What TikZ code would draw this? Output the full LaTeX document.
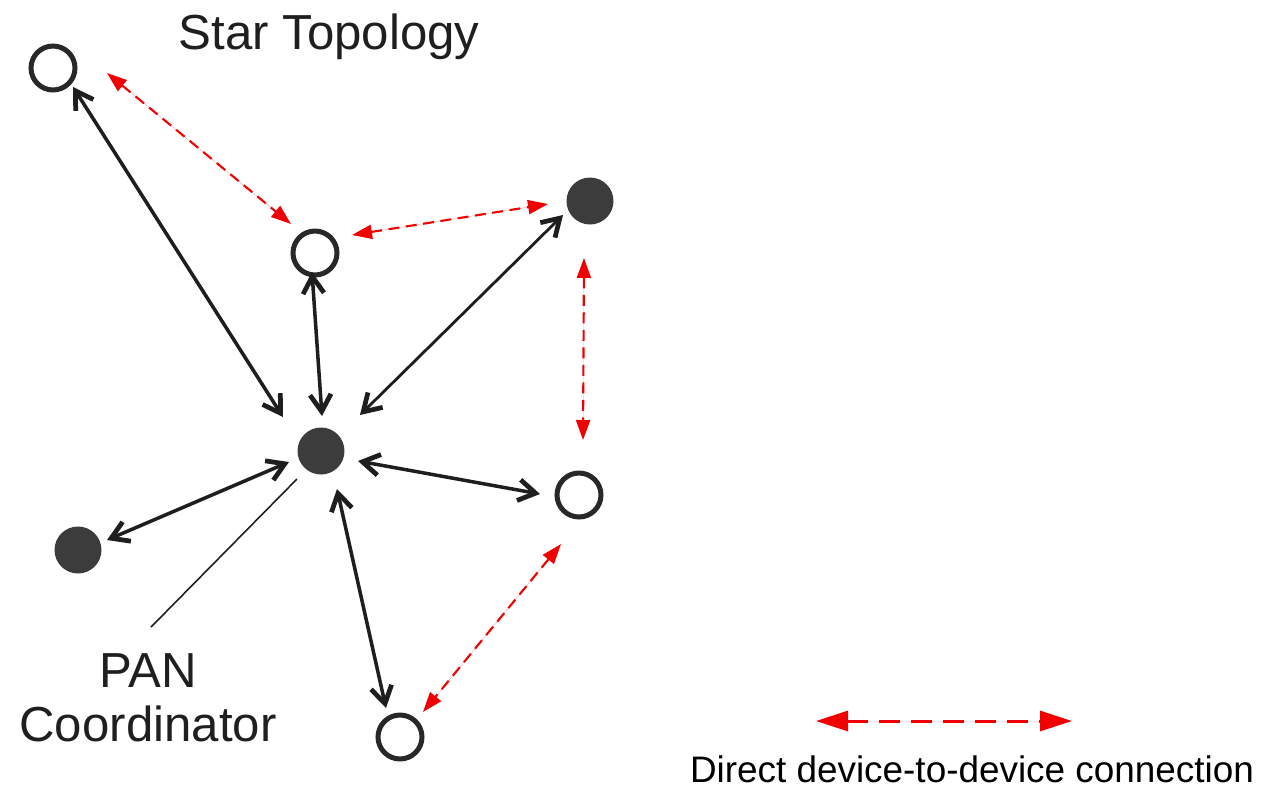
\documentclass[tikz,border=0pt]{standalone}
\usepackage{fontspec}
\setmainfont{Liberation Sans}
\usetikzlibrary{arrows.meta,calc}
\definecolor{ringc}{RGB}{40,40,40}
\definecolor{fillc}{RGB}{60,60,60}
\definecolor{linec}{RGB}{30,30,30}
\definecolor{redc}{RGB}{240,0,0}
\tikzset{
  hollow/.style={circle, draw=ringc, line width=1mm, minimum size=8.8mm, inner sep=0pt, outer sep=0pt},
  solid/.style={circle, fill=fillc, minimum size=9.4mm, inner sep=0pt, outer sep=0pt},
  blackarr/.style={<->, >={Straight Barb[length=3.4mm,width=4.2mm,line width=2.7pt]}, draw=linec, line width=2pt},
  redarr/.style={<->, >={Triangle[length=4mm,width=2.8mm]}, draw=redc, fill=redc, line width=1.2pt, dash pattern=on 2.2mm off 1.3mm},
  legarr/.style={<->, >={Triangle[length=6.4mm,width=4mm]}, draw=redc, fill=redc, line width=0.6mm, dash pattern=on 4.2mm off 2.2mm},
  bigtext/.style={font=\fontsize{28}{30}\selectfont, text=black!88, anchor=base, inner sep=0pt},
  legtext/.style={font=\fontsize{21}{24}\selectfont, text=black, anchor=base, inner sep=0pt}
}
\begin{document}
\begin{tikzpicture}[x=0.02cm, y=-0.02cm]
\useasboundingbox (0,0) rectangle (1272,789);
% nodes
\node[hollow] (A) at (53,68) {};
\node[hollow] (B) at (315,253) {};
\node[solid]  (C) at (590,201) {};
\node[solid]  (D) at (321,451) {};
\node[hollow] (E) at (579,495) {};
\node[solid]  (F) at (78,550) {};
\node[hollow] (G) at (400,737) {};
% labels
\node[bigtext] (title) at (329,49) {Star Topology};
\node[bigtext] (pan) at (148,687) {PAN};
\node[bigtext] (coord) at (148,741) {Coordinator};
% black connections
\draw[blackarr] ($(D)+(-38,-34)$) -- ($(A)+(20,19)$);
\draw[blackarr] ($(D)+(1,-35)$) -- ($(B)+(-3,19)$);
\draw[blackarr, line width=1.6pt] ($(D)+(39,-36)$) -- ($(C)+(-27,14)$);
\draw[blackarr] ($(D)+(37,10)$) -- ($(E)+(-39,-1)$);
\draw[blackarr] ($(D)+(-32,11)$) -- ($(F)+(29,-10)$);
\draw[blackarr] ($(D)+(16,38)$) -- ($(G)+(-14,-29)$);
% pointer
\draw[draw=linec, line width=0.9pt] ($(D)+(-24,28)$) -- ($(pan)+(3,-43)$);
% red direct connections
\draw[redarr] ($(A)+(54,5)$) -- ($(B)+(-24,-29)$);
\draw[redarr] ($(B)+(37,-18)$) -- ($(C)+(-42,3)$);
\draw[redarr] ($(C)+(-6,57)$) -- ($(E)+(4,-55)$);
\draw[redarr] ($(E)+(-18,49)$) -- ($(G)+(23,-25)$);
% legend
\coordinate (L1) at (816,721);
\coordinate (L2) at (1072,721);
\draw[legarr] (L1) -- (L2);
\node[legtext] (legend) at (972,782) {Direct device-to-device connection};
\end{tikzpicture}
\end{document}
